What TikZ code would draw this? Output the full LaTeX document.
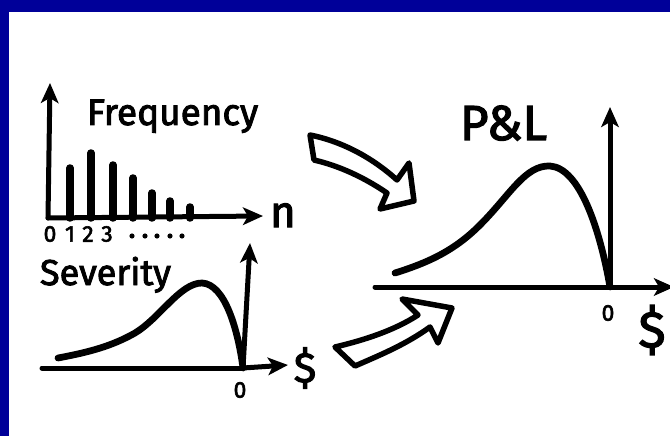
\documentclass[tikz,border=0pt]{standalone}
\usepackage{fontspec}
\setmainfont{Fira Sans}
\newfontfamily\markerfont{Fira Sans}[FakeBold=2.5]
\usepackage{tikz}
\usetikzlibrary{arrows.meta}
\definecolor{slideblue}{RGB}{0,0,153}

\begin{document}
\begin{tikzpicture}[
  x=0.4mm, y=-0.4mm,
  every node/.style={inner sep=0pt,outer sep=0pt},
  axis/.style={-{Stealth[length=8mm,width=7mm,inset=2mm]},line width=2mm,line cap=round},
  bar/.style={line width=3mm,line cap=round},
  curve/.style={line width=2.7mm,line cap=round},
  fatarrow/.style={line width=2.2mm,line join=round},
  hand/.style={font=\markerfont\fontsize{#1}{#1}\selectfont},
  hand/.default=42
]
  \useasboundingbox (0,0) rectangle (670,436);
  \fill[white] (0,0) rectangle (670,436);
  % slide frame
  \fill[slideblue] (0,0) rectangle (670,12);
  \fill[slideblue] (0,0) rectangle (8.5,436);

  % frequency panel
  \coordinate (forigin) at (48,218);
  \coordinate (ftop) at (50,83);
  \coordinate (fright) at (263,216);
  \draw[axis] (forigin) -- (ftop);
  \draw[axis] (forigin) -- (fright);
  \foreach \x/\h in {70/168,91/153,113/165,133/178,152/193,170/201,190/207}
    \draw[bar] (\x,218) -- (\x,\h);
  \node[hand,anchor=base west] (freq) at (87,125) {Frequency};
  \node[hand=50,anchor=base west] (nlabel) at (270,227) {n};
  \foreach \d/\x in {0/50,1/70,2/88,3/107}
    \node[hand=26] (tick\d) at (\x,234) {\d};
  \foreach \x in {132,145,157,170,182}
    \fill (\x,236) circle (2.6);

  % severity panel
  \coordinate (sleft) at (42,368);
  \coordinate (sorigin) at (243,368);
  \coordinate (stop) at (250,243);
  \coordinate (sright) at (288,365);
  \draw[axis,-] (sleft) -- (sorigin);
  \draw[axis] (sorigin) -- (sright);
  \draw[axis] (sorigin) -- (stop);
  \draw[curve] (58,358) .. controls (90,352) and (112,346) .. (135,333)
    .. controls (160,318) and (180,283) .. (202,283)
    .. controls (225,284) and (238,330) .. (243,368);
  \node[hand=41,anchor=base west] (sev) at (40,285) {Severity};
  \node[hand=26] (szero) at (240,390) {0};
  \node[hand=48] (sdollar) at (305,368) {\$};

  % P&L panel
  \coordinate (pleft) at (375,287);
  \coordinate (porigin) at (610,287);
  \coordinate (ptop) at (610,107);
  \coordinate (pright) at (674,287);
  \draw[axis,-] (pleft) -- (porigin);
  \draw[axis] (porigin) -- (pright);
  \draw[axis] (porigin) -- (ptop);
  \draw[curve] (395,273) .. controls (430,262) and (455,250) .. (480,225)
    .. controls (510,195) and (525,165) .. (550,166)
    .. controls (580,168) and (600,230) .. (610,287);
  \node[hand=56,anchor=base west] (pnl) at (460,140) {P\&L};
  \node[hand=26] (pzero) at (608,313) {0};
  \node[hand=58] (pdollar) at (652,330) {\$};

  % hollow arrows into P&L
  \draw[fatarrow] (310,135) .. controls (345,142) and (375,160) .. (397,180)
    -- (409,163) -- (414,201) -- (380,209) -- (387,193)
    .. controls (365,178) and (340,166) .. (314,160) -- cycle;
  \draw[fatarrow] (335,347) .. controls (365,340) and (395,330) .. (418,315)
    -- (402,299) -- (452,308) -- (438,343) -- (430,327)
    .. controls (405,345) and (380,355) .. (355,366) -- cycle;
\end{tikzpicture}
\end{document}
